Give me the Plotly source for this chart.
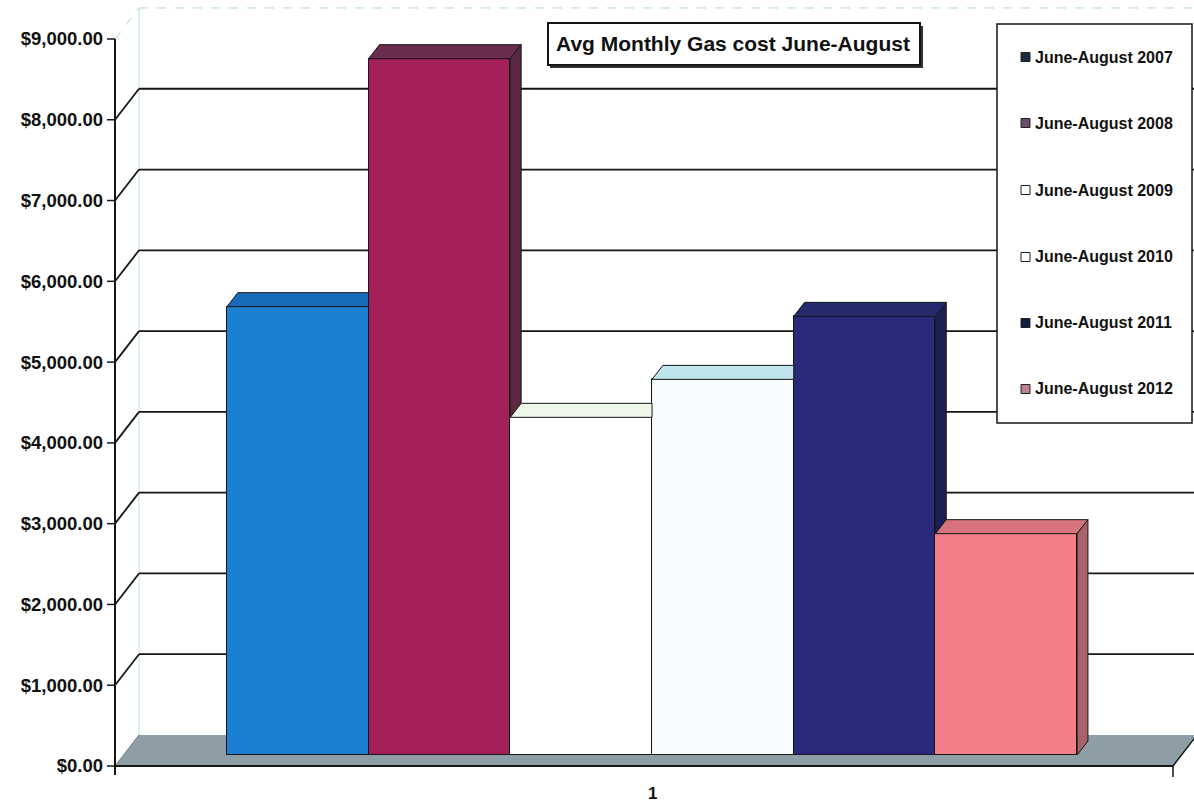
import plotly.graph_objects as go

# ---- data -------------------------------------------------------------
periods = [
    "June-August 2007",
    "June-August 2008",
    "June-August 2009",
    "June-August 2010",
    "June-August 2011",
    "June-August 2012",
]
avg_cost = [5550, 8620, 4180, 4650, 5430, 2740]
tick_values = [0, 1000, 2000, 3000, 4000, 5000, 6000, 7000, 8000, 9000]
tick_labels = ["$0.00", "$1,000.00", "$2,000.00", "$3,000.00", "$4,000.00",
               "$5,000.00", "$6,000.00", "$7,000.00", "$8,000.00", "$9,000.00"]
category_label = "1"
chart_title = "Avg Monthly Gas cost June-August"

# ---- styling ----------------------------------------------------------
front_colors = ["#1c80d2", "#a3205a", "#ffffff", "#f9fdff", "#2a2a7c", "#f37d88"]
top_colors = ["#1769b9", "#6a2c4f", "#eef7ea", "#bfe4ec", "#242b6c", "#d6737d"]
side_colors = ["#135a9f", "#5b2943", "#e6e6e6", "#dbe8ee", "#1b1f55", "#a9626a"]
swatch_colors = ["#1a2a40", "#6e4a6e", "#ffffff", "#ffffff", "#121c42", "#c08090"]
EDGE = "#161616"
FONT = "Liberation Sans"

W, H = 1194, 806
ML = 104                      # left margin (room for the value labels)
PX_PER_DOLLAR = 0.08078       # vertical scale
Y0_PX = 766                   # pixel row of $0 on the front plane
SLOT_PX = 141.7               # width of one bar slot
X0_PX = 297.8                 # centre of the first bar


def xu(px):
    return (px - X0_PX) / SLOT_PX


def yu(py):
    return (Y0_PX - py) / PX_PER_DOLLAR


def xp(px):
    return (px - ML) / (W - ML)


def yp(py):
    return 1 - py / H


# oblique depth of the floor/walls and of the bars
WALL_DX, WALL_DY = 24 / SLOT_PX, 31 / PX_PER_DOLLAR
BAR_BASE = 11 / PX_PER_DOLLAR
BAR_DX, BAR_DY = 10.8 / SLOT_PX, 14 / PX_PER_DOLLAR
AXIS_X = xu(115)
FLOOR_R = xu(1173)
RIGHT_X = xu(W + 5)

shapes = []


def seg(x0, y0, x1, y1, color=EDGE, width=1.8, dash="solid", layer="below"):
    shapes.append(dict(type="line", xref="x", yref="y", x0=x0, y0=y0, x1=x1, y1=y1,
                       line=dict(color=color, width=width, dash=dash), layer=layer))


# floor
shapes.append(dict(
    type="path", xref="x", yref="y", layer="below",
    path=(f"M {AXIS_X},0 L {FLOOR_R},0 L {FLOOR_R + WALL_DX},{WALL_DY} "
          f"L {AXIS_X + WALL_DX},{WALL_DY} Z"),
    fillcolor="#8d9ea6", line=dict(width=0)))
seg(AXIS_X, 0, FLOOR_R, 0, width=2)
seg(FLOOR_R, 0, FLOOR_R + WALL_DX, WALL_DY, width=1.5)
seg(FLOOR_R, 0, FLOOR_R, yu(777), width=1.5)
seg(AXIS_X, 0, AXIS_X + WALL_DX, WALL_DY, color="#6f7f86", width=1)

# faint wall outline
top_val = tick_values[-1]
seg(AXIS_X + WALL_DX, WALL_DY, AXIS_X + WALL_DX, top_val + WALL_DY, color="#bfe3e6", width=1)
seg(AXIS_X + WALL_DX, top_val + WALL_DY, RIGHT_X, top_val + WALL_DY,
    color="#a9dada", width=1, dash="dash")
seg(AXIS_X, top_val, AXIS_X + WALL_DX, top_val + WALL_DY, color="#a9dada", width=1, dash="dash")

# gridlines on the back and side walls
for v in tick_values[1:-1]:
    seg(AXIS_X + WALL_DX, v + WALL_DY, RIGHT_X, v + WALL_DY)
    seg(AXIS_X, v, AXIS_X + WALL_DX, v + WALL_DY)

# value axis with tick marks
seg(AXIS_X, yu(775), AXIS_X, top_val, width=2)
for v in tick_values:
    seg(xu(107), v, AXIS_X, v, width=1.5)

fig = go.Figure()

# bar fronts
xs = list(range(len(avg_cost)))
fig.add_trace(go.Bar(
    x=xs, y=avg_cost, base=[BAR_BASE] * len(avg_cost), width=1,
    marker=dict(color=front_colors, line=dict(color=EDGE, width=1)),
    showlegend=False, hoverinfo="skip"))

# tops and right-hand sides, left to right so each bar hides the one before it
for i, v in enumerate(avg_cost):
    L, R = i - 0.5, i + 0.5
    h = BAR_BASE + v
    nxt = avg_cost[i + 1] if i + 1 < len(avg_cost) else None
    if nxt is not None and nxt > v:
        tx = [L, R, R, L + BAR_DX, L]
    else:
        tx = [L, R, R + BAR_DX, L + BAR_DX, L]
    ty = [h, h, h + BAR_DY, h + BAR_DY, h]
    fig.add_trace(go.Scatter(x=tx, y=ty, mode="lines", fill="toself",
                             fillcolor=top_colors[i], line=dict(color=EDGE, width=1),
                             showlegend=False, hoverinfo="skip"))
    if nxt is None or nxt < v:
        low = BAR_BASE + (nxt if nxt is not None else 0)
        sx = [R, R, R + BAR_DX, R + BAR_DX, R]
        sy = [low, h, h + BAR_DY, low + BAR_DY, low]
        fig.add_trace(go.Scatter(x=sx, y=sy, mode="lines", fill="toself",
                                 fillcolor=side_colors[i], line=dict(color=EDGE, width=1),
                                 showlegend=False, hoverinfo="skip"))

annotations = []

# category label
annotations.append(dict(x=(len(avg_cost) - 1) / 2, y=yu(793), xref="x", yref="y",
                        xanchor="center", yanchor="middle",
                        text=category_label, showarrow=False,
                        font=dict(family=FONT, size=17, color="#111", weight="bold")))

# title box
shapes.append(dict(type="rect", xref="paper", yref="paper",
                   x0=xp(550), x1=xp(923), y0=yp(68), y1=yp(26),
                   fillcolor="#333", line=dict(width=0), layer="above"))
shapes.append(dict(type="rect", xref="paper", yref="paper",
                   x0=xp(548), x1=xp(920), y0=yp(65), y1=yp(23),
                   fillcolor="white", line=dict(color=EDGE, width=2), layer="above"))
annotations.append(dict(x=xp(733), y=yp(44), xref="paper", yref="paper",
                        xanchor="center", yanchor="middle",
                        text=chart_title, showarrow=False,
                        font=dict(family=FONT, size=21, color="#111", weight="bold")))

# legend box
shapes.append(dict(type="rect", xref="paper", yref="paper",
                   x0=xp(997), x1=xp(1192), y0=yp(423), y1=yp(24),
                   fillcolor="white", line=dict(color=EDGE, width=1.5), layer="above"))
legend_rows = [57, 123, 190, 257, 323, 389]
for name, col, row in zip(periods, swatch_colors, legend_rows):
    shapes.append(dict(type="rect", xref="paper", yref="paper",
                       x0=xp(1021), x1=xp(1030), y0=yp(row + 4.5), y1=yp(row - 4.5),
                       fillcolor=col, line=dict(color="#222", width=1), layer="above"))
    annotations.append(dict(x=xp(1033), y=yp(row), xref="paper", yref="paper",
                            xanchor="left", yanchor="middle", text=name, showarrow=False,
                            font=dict(family=FONT, size=16, color="#111", weight="bold")))

fig.update_layout(
    width=W, height=H, autosize=False,
    margin=dict(l=ML, r=0, t=0, b=0, pad=0),
    paper_bgcolor="white", plot_bgcolor="white",
    showlegend=False, bargap=0,
    xaxis=dict(range=[xu(ML), xu(W)], visible=False, fixedrange=True),
    yaxis=dict(range=[yu(H), yu(0)], tickvals=tick_values, ticktext=tick_labels,
               showgrid=False, zeroline=False, showline=False, ticks="",
               tickfont=dict(family=FONT, size=18.5, color="#111", weight="bold"),
               fixedrange=True),
    shapes=shapes, annotations=annotations,
)

fig.write_html("out.html")
